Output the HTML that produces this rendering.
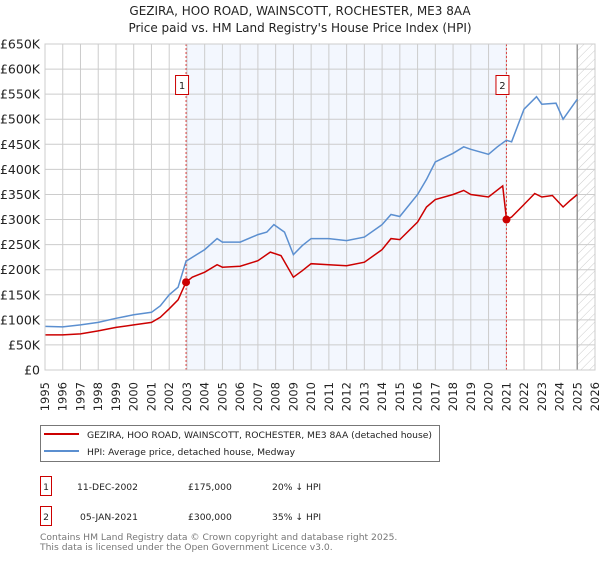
<!DOCTYPE html>
<html><head><meta charset="utf-8"><style>
body{margin:0;background:#fff;font-family:"Liberation Sans","DejaVu Sans",sans-serif;}
svg text{font-family:"DejaVu Sans","Liberation Sans",sans-serif;}
</style></head><body>
<svg id="c" width="600" height="560" xmlns="http://www.w3.org/2000/svg">
<defs><pattern id="hatch" width="6" height="6" patternUnits="userSpaceOnUse" patternTransform="rotate(45)"><line x1="0" y1="0" x2="0" y2="6" stroke="#ccc" stroke-width="1"/></pattern></defs>
<text x="300" y="15" text-anchor="middle" font-size="12" fill="#222">GEZIRA, HOO ROAD, WAINSCOTT, ROCHESTER, ME3 8AA</text>
<text x="300" y="32" text-anchor="middle" font-size="12" fill="#222">Price paid vs. HM Land Registry's House Price Index (HPI)</text>
<g id="plot"></g>
<g>
<rect x="40.5" y="425.5" width="399" height="36" fill="#fff" stroke="#777"/>
<line x1="44" y1="434" x2="79" y2="434" stroke="#cc0000" stroke-width="2"/>
<text x="87" y="438" font-size="9.2" fill="#222">GEZIRA, HOO ROAD, WAINSCOTT, ROCHESTER, ME3 8AA (detached house)</text>
<line x1="44" y1="451" x2="79" y2="451" stroke="#5b8fd0" stroke-width="2"/>
<text x="87" y="455" font-size="9.2" fill="#222">HPI: Average price, detached house, Medway</text>
</g>
<g font-size="9.2" fill="#222">
<rect x="40.5" y="476.5" width="11" height="19" fill="#fff" stroke="#cc0000"/>
<text x="46" y="490" text-anchor="middle">1</text>
<text x="77" y="490">11-DEC-2002</text><text x="188" y="490">£175,000</text><text x="272" y="490">20% ↓ HPI</text>
<rect x="40.5" y="506.5" width="11" height="19" fill="#fff" stroke="#cc0000"/>
<text x="46" y="520" text-anchor="middle">2</text>
<text x="80" y="520">05-JAN-2021</text><text x="188" y="520">£300,000</text><text x="272" y="520">35% ↓ HPI</text>
</g>
<text x="40" y="540" font-size="9.2" fill="#777">Contains HM Land Registry data © Crown copyright and database right 2025.</text>
<text x="40" y="550" font-size="9.2" fill="#777">This data is licensed under the Open Government Licence v3.0.</text>
</svg>
<script>
const yTicks=[0,50,100,150,200,250,300,350,400,450,500,550,600,650];
const yTickLabels=["£0","£50K","£100K","£150K","£200K","£250K","£300K","£350K","£400K","£450K","£500K","£550K","£600K","£650K"];
const years=[1995,1996,1997,1998,1999,2000,2001,2002,2003,2004,2005,2006,2007,2008,2009,2010,2011,2012,2013,2014,2015,2016,2017,2018,2019,2020,2021,2022,2023,2024,2025,2026];
const hpiT=[1995,1996,1997,1998,1999,2000,2001,2001.5,2002,2002.5,2002.95,2004,2004.7,2005,2006,2007,2007.5,2007.9,2008.5,2009,2009.5,2010,2011,2012,2013,2014,2014.5,2015,2016,2016.5,2017,2018,2018.6,2019,2020,2020.5,2021,2021.3,2022,2022.7,2023,2023.8,2024.2,2024.6,2025];
const hpiV=[87,86,90,95,103,110,115,128,150,165,217,240,262,255,255,270,275,290,275,230,248,262,262,258,265,290,310,306,350,380,415,432,445,440,430,445,458,455,520,545,530,532,500,520,540];
const ppT=[1995,1996,1997,1998,1999,2000,2001,2001.5,2002,2002.5,2002.95,2003.3,2004,2004.7,2005,2006,2007,2007.7,2008.3,2009,2009.5,2010,2011,2012,2013,2014,2014.5,2015,2016,2016.5,2017,2018,2018.6,2019,2020,2020.8,2021.01,2021.3,2022,2022.6,2023,2023.6,2024.2,2024.6,2025];
const ppV=[70,70,72,78,85,90,95,105,122,140,175,185,195,210,205,207,218,235,228,185,198,212,210,208,215,240,262,260,295,325,340,350,358,350,345,367,300,305,330,352,345,348,325,338,350];
const saleT=[2002.95,2021.01];
const saleV=[175,300];
const saleLabels=["1","2"];

const NS="http://www.w3.org/2000/svg";
const L=45,R=595,T=44,B=370;
const xs=t=>L+(t-1995)/(2026-1995)*(R-L);
const ys=v=>B-v/650*(B-T);
const g=document.getElementById('plot');
function mk(tag,attrs,parent){const e=document.createElementNS(NS,tag);for(const k in attrs)e.setAttribute(k,attrs[k]);(parent||g).appendChild(e);return e;}
let r=mk('rect',{x:xs(saleT[0]),y:T,width:xs(saleT[1])-xs(saleT[0]),height:B-T,fill:'#eef3fd',opacity:0.7});


r=mk('rect',{x:xs(2025),y:T,width:R-xs(2025),height:B-T,fill:'url(#hatch)'});


years.forEach(y=>{const x=xs(y);
 let l=mk('line',{x1:x,x2:x,y1:T,y2:B,stroke:'#cccccc','stroke-width':1});
 
 
 let t=mk('text',{x:0,y:0,'font-size':11.5,fill:'#222','text-anchor':'end',transform:`translate(${x+4},${B+12}) rotate(-90)`});
 t.textContent=y;
 
 
});
yTicks.forEach((v,i)=>{const y=ys(v);
 let l=mk('line',{x1:L,x2:R,y1:y,y2:y,stroke:'#cccccc','stroke-width':1});
 
 
 let t=mk('text',{x:L-5,y:y+4.5,'font-size':12.5,fill:'#222','text-anchor':'end'});
 t.textContent=yTickLabels[i];
 
 
});
let ln=mk('line',{x1:xs(2025),x2:xs(2025),y1:T,y2:B,stroke:'#999','stroke-width':1.5});


saleT.forEach((t,i)=>{const x=xs(t);
 let l=mk('line',{x1:x,x2:x,y1:T,y2:B,stroke:'#dd4444','stroke-width':1,'stroke-dasharray':'2,2'});
 
 
 let b=mk('rect',{x:x-10.5,y:T+31.5,width:13,height:19,fill:'#fff',stroke:'#cc0000'});
 
 
 let tx=mk('text',{x:x-4,y:T+45,'font-size':10,fill:'#222','text-anchor':'middle'});
 tx.textContent=saleLabels[i];
 
 
});
const path=(T_,V)=>T_.map((t,i)=>(i?'L':'M')+xs(t).toFixed(1)+','+ys(V[i]).toFixed(1)).join('');
let hp=mk('path',{d:path(hpiT,hpiV),fill:'none',stroke:'#5b8fd0','stroke-width':1.5});


let pp=mk('path',{d:path(ppT,ppV),fill:'none',stroke:'#cc0000','stroke-width':1.5});


saleT.forEach((t,i)=>{
 let c=mk('circle',{cx:xs(t),cy:ys(saleV[i]),r:4,fill:'#cc0000'});
 
 
});
let ax=mk('rect',{x:L,y:T,width:R-L,height:B-T,fill:'none',stroke:'#cccccc'});


</script>
</body></html>
